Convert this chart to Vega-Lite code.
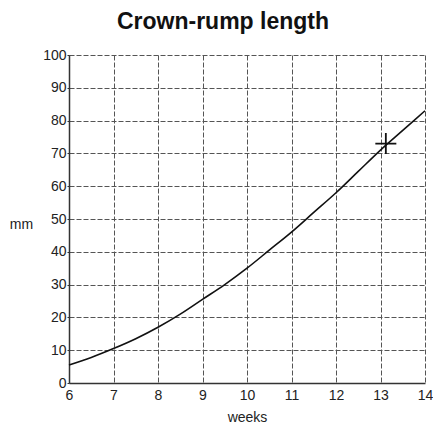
{
  "$schema": "https://vega.github.io/schema/vega-lite/v6.json",
  "width": 356,
  "height": 328,
  "autosize": "none",
  "padding": {"left": 69, "top": 55, "right": 8, "bottom": 51},
  "background": "white",
  "title": {
    "text": "Crown-rump length",
    "font": "Liberation Sans",
    "fontSize": 23,
    "fontWeight": "bold",
    "color": "#111",
    "anchor": "middle",
    "dx": -24,
    "offset": 14
  },
  "config": {
    "view": {"stroke": null},
    "axis": {
      "labelFont": "Liberation Sans",
      "titleFont": "Liberation Sans",
      "labelFontSize": 14,
      "titleFontSize": 14,
      "titleFontWeight": "normal",
      "labelColor": "#222",
      "titleColor": "#222",
      "labelOverlap": false,
      "labelFlush": false,
      "gridColor": "#555",
      "gridDash": [5, 2],
      "gridWidth": 1,
      "domainColor": "#333",
      "domainWidth": 1.5,
      "tickColor": "#333",
      "tickSize": 3
    }
  },
  "datasets": {
    "curve": [
      {"week": 6, "mm": 5.5},
      {"week": 6.5, "mm": 7.8},
      {"week": 7, "mm": 10.5},
      {"week": 7.5, "mm": 13.5},
      {"week": 8, "mm": 17},
      {"week": 8.5, "mm": 21},
      {"week": 9, "mm": 25.5},
      {"week": 9.5, "mm": 30},
      {"week": 10, "mm": 35},
      {"week": 10.5, "mm": 40.5},
      {"week": 11, "mm": 46},
      {"week": 11.5, "mm": 52},
      {"week": 12, "mm": 58},
      {"week": 12.5, "mm": 64.5},
      {"week": 13, "mm": 71},
      {"week": 13.5, "mm": 77},
      {"week": 14, "mm": 83}
    ],
    "measurement": [{"week": 13.12, "mm": 73}]
  },
  "encoding": {
    "x": {
      "field": "week", "type": "quantitative",
      "scale": {"domain": [6, 14], "nice": false, "zero": false},
      "axis": {"values": [6, 7, 8, 9, 10, 11, 12, 13, 14], "title": "weeks", "titlePadding": 8, "labelPadding": 5, "tickSize": 0}
    },
    "y": {
      "field": "mm", "type": "quantitative",
      "scale": {"domain": [0, 100], "nice": false},
      "axis": {"values": [0, 10, 20, 30, 40, 50, 60, 70, 80, 90, 100], "title": "mm", "titleAngle": 0, "titleX": -48, "titleY": 169, "titleAlign": "center", "titleBaseline": "middle", "labelPadding": 1, "tickSize": 2}
    }
  },
  "layer": [
    {
      "data": {"name": "curve"},
      "mark": {"type": "line", "color": "#111", "strokeWidth": 1.6, "interpolate": "monotone"}
    },
    {
      "data": {"name": "measurement"},
      "mark": {"type": "point", "shape": "M-1,0L1,0M0,-1L0,1", "size": 441, "stroke": "#111", "strokeWidth": 1.8, "filled": false, "opacity": 1}
    }
  ]
}
